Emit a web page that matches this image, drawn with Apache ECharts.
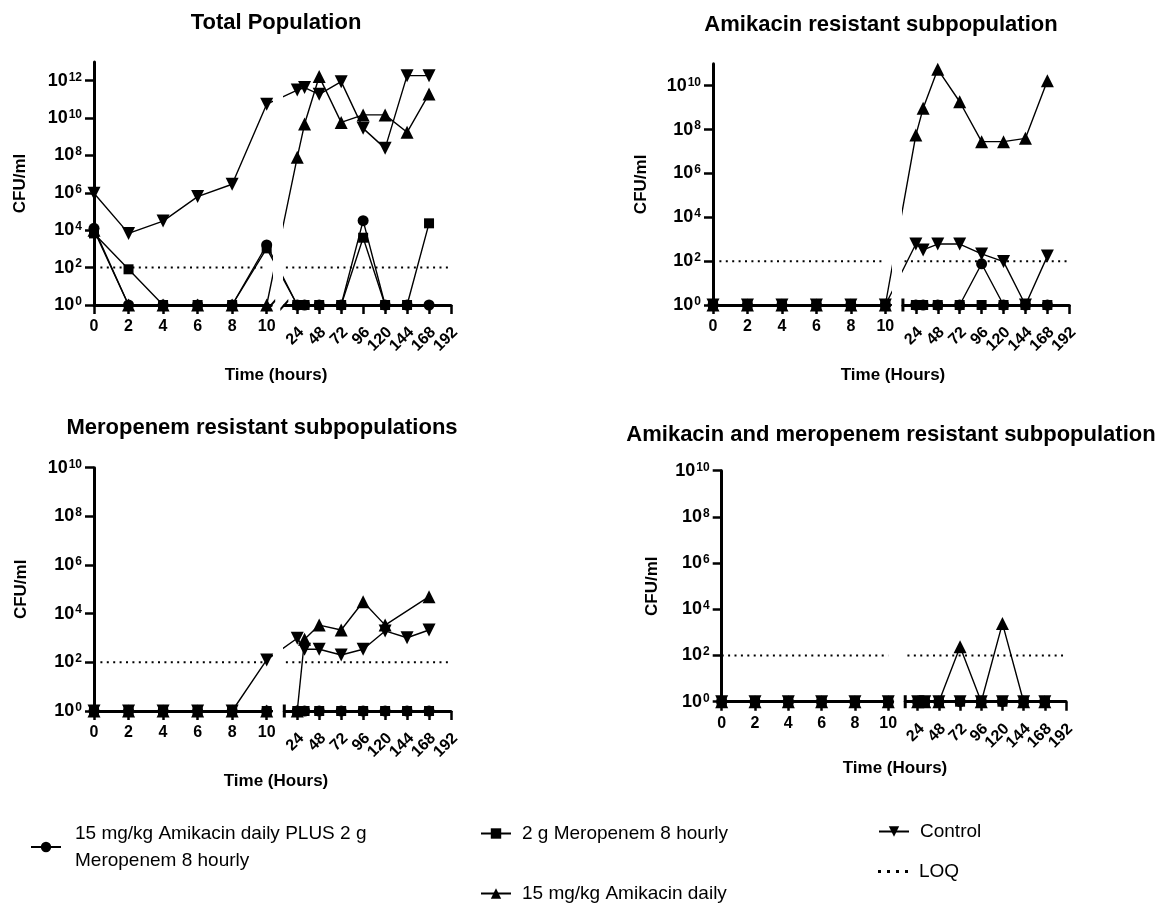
<!DOCTYPE html>
<html><head><meta charset="utf-8">
<script src="https://cdn.jsdelivr.net/npm/echarts@6/dist/echarts.min.js"></script>
<style>html,body{margin:0;padding:0;background:#fff}#c{width:1163px;height:905px}</style>
</head><body><div id="c"></div>
<script>
// ---------------- DATA ----------------
// sampling times (hours)
const hours = [0, 2, 4, 6, 8, 10, 24, 32, 48, 72, 96, 120, 144, 168];
const seg1Ticks = [0, 2, 4, 6, 8, 10];
const seg2Ticks = [24, 48, 72, 96, 120, 144, 168, 192];
// y tick exponents (CFU/ml = 10^n)
const yTicksTotal = [0, 2, 4, 6, 8, 10, 12];
const yTicksSub = [0, 2, 4, 6, 8, 10];

const nameCombo = '15 mg/kg Amikacin daily PLUS 2 g\nMeropenem 8 hourly';
const nameMero = '2 g Meropenem 8 hourly';
const nameAmik = '15 mg/kg Amikacin daily';
const nameCtrl = 'Control';
const nameLOQ = 'LOQ';
const loqLog10 = 2;          // LOQ = 10^2 CFU/ml
const loqHours = [0, 10, 10, 192];

// values are log10(CFU/ml)
// Total population
const totalCombo = [4.1, 0, 0, 0, 0, 3.21, 0, 0, 0, 0, 4.51, 0, 0, 0];
const totalMero  = [3.83, 1.91, 0, 0, 0, 3.03, 0, 0, 0, 0, 3.6, 0, 0, 4.37];
const totalAmik  = [4.0, 0, 0, 0, 0, 0, 7.9, 9.68, 12.22, 9.77, 10.17, 10.17, 9.24, 11.29];
const totalCtrl  = [5.98, 3.83, 4.49, 5.8, 6.46, 10.74, 11.5, 11.63, 11.27, 11.95, 9.45, 8.38, 12.27, 12.27];
// Amikacin resistant subpopulation
const amikResCombo = [0, 0, 0, 0, 0, 0, 0, 0, 0, 0, 1.88, 0, 0, 0];
const amikResMero  = [0, 0, 0, 0, 0, 0, 0, 0, 0, 0, 0, 0, 0, 0];
const amikResAmik  = [0, 0, 0, 0, 0, 0, 7.75, 8.97, 10.75, 9.27, 7.45, 7.45, 7.6, 10.23];
const amikResCtrl  = [0, 0, 0, 0, 0, 0, 2.78, 2.51, 2.78, 2.78, 2.33, 1.98, 0, 2.23];
// Meropenem resistant subpopulations
const meroResCombo = [0, 0, 0, 0, 0, 0, 0, 0, 0, 0, 0, 0, 0, 0];
const meroResMero  = [0, 0, 0, 0, 0, 0, 0, 0, 0, 0, 0, 0, 0, 0];
const meroResAmik  = [0, 0, 0, 0, 0, 0, 0, 2.95, 3.53, 3.33, 4.49, 3.53, null, 4.7];
const meroResCtrl  = [0, 0, 0, 0, 0, 2.1, 2.99, 2.54, 2.54, 2.3, 2.54, 3.29, 3.01, 3.33];
// Amikacin and meropenem resistant subpopulation
const bothResCombo = [0, 0, 0, 0, 0, 0, 0, 0, 0, 0, 0, 0, 0, 0];
const bothResMero  = [0, 0, 0, 0, 0, 0, 0, 0, 0, 0, 0, 0, 0, 0];
const bothResAmik  = [0, 0, 0, 0, 0, 0, 0, 0, 0, 2.38, 0, 3.39, 0, 0];
const bothResCtrl  = [0, 0, 0, 0, 0, 0, 0, 0, 0, 0, 0, 0, 0, 0];

// ---------------- BROKEN X SCALE ----------------
// segment 1: 0-10 h ; segment 2: 24-192 h (compressed), gap between them
const GAP = 1.77, RATIO = 0.053;
function d(t) { return t <= 10 ? t : 10 + GAP + (t - 24) * RATIO; }
const SEG1_MAX = 10.26, SEG2_MIN = 11.02, SEG2_MAX = d(192);
const allTicks = seg1Ticks.concat(seg2Ticks);
function hourLabel(v) { const t = allTicks.find(t => Math.abs(d(t) - v) < 1e-6); return t == null ? '' : String(t); }

// ---------------- LAYOUT ----------------
const FONT = '"Liberation Sans", Arial, Helvetica, sans-serif';
const panels = [
  { title: 'Total Population', xName: 'Time (hours)', yMax: 13, yTicks: yTicksTotal,
    combo: totalCombo, mero: totalMero, amik: totalAmik, ctrl: totalCtrl, brk: 'slash',
    box: { x0: 94, xEnd: 451, yTop: 62, yBottom: 305 }, titleC: [276, 23], xNameC: [276, 375], yNameGap: 65 },
  { title: 'Amikacin resistant subpopulation', xName: 'Time (Hours)', yMax: 11, yTicks: yTicksSub,
    combo: amikResCombo, mero: amikResMero, amik: amikResAmik, ctrl: amikResCtrl, brk: 'bar',
    box: { x0: 713, xEnd: 1069.3, yTop: 63.8, yBottom: 305 }, titleC: [881, 25], xNameC: [893, 375], yNameGap: 63 },
  { title: 'Meropenem resistant subpopulations', xName: 'Time (Hours)', yMax: 10, yTicks: yTicksSub,
    combo: meroResCombo, mero: meroResMero, amik: meroResAmik, ctrl: meroResCtrl, brk: 'bar',
    box: { x0: 94, xEnd: 451, yTop: 467.7, yBottom: 711 }, titleC: [262, 428], xNameC: [276, 781], yNameGap: 64 },
  { title: 'Amikacin and meropenem resistant subpopulation', xName: 'Time (Hours)', yMax: 10, yTicks: yTicksSub,
    combo: bothResCombo, mero: bothResMero, amik: bothResAmik, ctrl: bothResCtrl, brk: 'bar',
    box: { x0: 721.7, xEnd: 1066, yTop: 470.7, yBottom: 701.7 }, titleC: [891, 435], xNameC: [895, 768], yNameGap: 61 }
];

const SLASH = 'path://M0,0 L3,0 L12,8 L9,8 Z';
const grids = [], xAxes = [], yAxes = [], series = [], titles = [];
const lineSt = { color: '#000', width: 1.4 };
const axisLineSt = { color: '#000', width: 3 };
const TITLE_FS = 22, XNAME_FS = 17;
const rotLabel = { formatter: hourLabel, margin: 20.5, rotate: 45, align: 'right', verticalAlign: 'top',
  hideOverlap: false, showMinLabel: true, showMaxLabel: true, lineHeight: 12,
  color: '#000', fontSize: 16, fontWeight: 'bold', fontFamily: FONT };

panels.forEach((p, pi) => {
  const b = p.box;
  const s = (b.xEnd - b.x0) / SEG2_MAX;
  const h = b.yBottom - b.yTop;
  const gi = grids.length;
  grids.push({ left: b.x0, top: b.yTop, width: SEG1_MAX * s, height: h, outerBoundsMode: 'none' });
  grids.push({ left: b.x0 + SEG2_MIN * s, top: b.yTop, width: (SEG2_MAX - SEG2_MIN) * s, height: h, outerBoundsMode: 'none' });

  const s1 = seg1Ticks.map(d), s2 = seg2Ticks.map(d);
  const xi = xAxes.length;
  xAxes.push({
    type: 'value', gridIndex: gi, position: 'bottom', min: 0, max: SEG1_MAX, splitLine: { show: false },
    axisLine: { show: true, onZero: false, lineStyle: axisLineSt,
      symbol: p.brk === 'slash' ? ['none', SLASH] : ['none', 'none'], symbolSize: [12, 8] },
    axisTick: { show: true, length: 9, customValues: s1, lineStyle: { color: '#000', width: 2.5 } },
    axisLabel: { customValues: s1, formatter: hourLabel, margin: 14, color: '#000', hideOverlap: false,
      showMinLabel: true, showMaxLabel: true, fontSize: 16, fontWeight: 'bold', fontFamily: FONT }
  });
  xAxes.push({
    type: 'value', gridIndex: gi + 1, position: 'bottom', min: SEG2_MIN, max: SEG2_MAX, splitLine: { show: false },
    axisLine: { show: true, onZero: false, lineStyle: axisLineSt,
      symbol: p.brk === 'slash' ? [SLASH, 'none'] : ['rect', 'none'],
      symbolSize: p.brk === 'slash' ? [12, 8] : [13, 3] },
    axisTick: { show: true, length: 9, customValues: s2, lineStyle: { color: '#000', width: 2.5 } },
    axisLabel: Object.assign({}, rotLabel, { customValues: s2.filter((v, i) => i % 2 === 0) })
  });
  // second label layer for the remaining seg-2 tick labels (avoids automatic overlap hiding)
  xAxes.push({
    type: 'value', gridIndex: gi + 1, position: 'bottom', offset: 0, min: SEG2_MIN, max: SEG2_MAX,
    splitLine: { show: false }, axisLine: { show: false }, axisTick: { show: false },
    axisLabel: Object.assign({}, rotLabel, { customValues: s2.filter((v, i) => i % 2 === 1) })
  });
  yAxes.push({
    gridIndex: gi, type: 'value', min: 0, max: p.yMax, splitLine: { show: false },
    axisLine: { show: true, onZero: false, lineStyle: axisLineSt },
    axisTick: { show: true, length: 9, customValues: p.yTicks, lineStyle: { color: '#000', width: 2.5 } },
    axisLabel: { customValues: p.yTicks, margin: 12, showMinLabel: true, showMaxLabel: true,
      formatter: v => '{b|10}{s|' + v + '}',
      rich: { b: { fontSize: 18, fontWeight: 'bold', fontFamily: FONT, color: '#000', lineHeight: 19 },
              s: { fontSize: 12, fontWeight: 'bold', fontFamily: FONT, color: '#000', verticalAlign: 'top', padding: [0, 0, 0, 1] } } },
    name: 'CFU/ml', nameLocation: 'middle', nameRotate: 90, nameGap: p.yNameGap,
    nameTextStyle: { fontSize: 17, fontWeight: 'bold', fontFamily: FONT, color: '#000' }
  });
  yAxes.push({ gridIndex: gi + 1, type: 'value', min: 0, max: p.yMax, show: false });

  const defs = [
    { name: nameCombo, vals: p.combo, symbol: 'circle', size: 11, rot: 0 },
    { name: nameAmik, vals: p.amik, symbol: 'triangle', size: 13, rot: 0 },
    { name: nameCtrl, vals: p.ctrl, symbol: 'triangle', size: 13, rot: 180 },
    { name: nameMero, vals: p.mero, symbol: 'rect', size: 10, rot: 0 }
  ];
  [0, 1].forEach(k => {
    defs.forEach(df => {
      series.push({
        type: 'line', name: df.name, xAxisIndex: xi + k, yAxisIndex: gi + k,
        data: hours.map((t, i) => [d(t), df.vals[i]]),
        symbol: df.symbol, symbolSize: df.size, symbolRotate: df.rot, showSymbol: true,
        connectNulls: true, clip: true, silent: true,
        lineStyle: lineSt, itemStyle: { color: '#000' }
      });
    });
    const lh = k === 0 ? loqHours.slice(0, 2) : loqHours.slice(2);
    series.push({
      type: 'line', name: nameLOQ, xAxisIndex: xi + k, yAxisIndex: gi + k,
      data: lh.map(t => [d(t), loqLog10]), symbol: 'none', clip: true, silent: true,
      lineStyle: { color: '#000', width: 2, type: [2, 4.4] }, itemStyle: { color: '#000' }
    });
  });

  titles.push({ text: p.title, left: p.titleC[0], top: p.titleC[1] - TITLE_FS / 2, textAlign: 'center', padding: 0,
    textStyle: { fontSize: TITLE_FS, lineHeight: TITLE_FS, fontWeight: 'bold', fontFamily: FONT, color: '#000' } });
  titles.push({ text: p.xName, left: p.xNameC[0], top: p.xNameC[1] - XNAME_FS / 2, textAlign: 'center', padding: 0,
    textStyle: { fontSize: XNAME_FS, lineHeight: XNAME_FS, fontWeight: 'bold', fontFamily: FONT, color: '#000' } });
});

const legTxt = { fontSize: 19, fontFamily: FONT, color: '#000', lineHeight: 27, padding: [0, 0, 0, 6] };
const legBase = { orient: 'vertical', selectedMode: false, itemWidth: 30, itemHeight: 13, padding: 0, textStyle: legTxt };
const LOQ_ICON = 'path://M0,0h2v2h-2z M6,0h2v2h-2z M12,0h2v2h-2z M18,0h2v2h-2z';
const legends = [
  Object.assign({}, legBase, { data: [nameCombo], left: 30, top: 820, textStyle: Object.assign({}, legTxt, { padding: [0, 0, 0, 9] }) }),
  Object.assign({}, legBase, { data: [nameMero], left: 480, top: 820 }),
  Object.assign({}, legBase, { data: [nameAmik], left: 480, top: 880 }),
  Object.assign({}, legBase, { data: [nameCtrl], left: 878, top: 818 }),
  Object.assign({}, legBase, { data: [{ name: nameLOQ, icon: LOQ_ICON }], left: 878, top: 858 })
];

const chart = echarts.init(document.getElementById('c'), null, { renderer: 'canvas' });
chart.setOption({
  animation: false, backgroundColor: '#fff',
  title: titles, legend: legends, grid: grids, xAxis: xAxes, yAxis: yAxes, series: series
});
</script></body></html>
